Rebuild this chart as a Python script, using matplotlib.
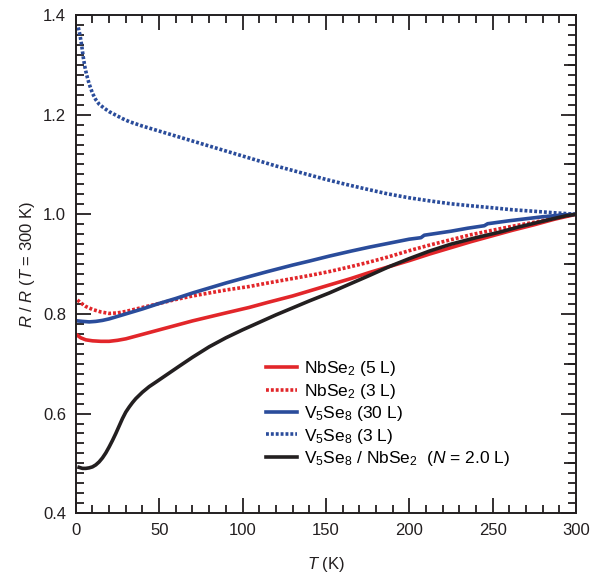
import numpy as np
import matplotlib.pyplot as plt
from matplotlib.ticker import MultipleLocator, FixedLocator, NullFormatter

plt.rcParams['font.family'] = ['Liberation Sans', 'DejaVu Sans']
plt.rcParams['mathtext.fontset'] = 'custom'
plt.rcParams['mathtext.rm'] = 'Liberation Sans'
plt.rcParams['mathtext.it'] = 'Liberation Sans:italic'

# NbSe2 (5 L)
t_nb5 = [1, 3, 6, 10, 15, 20, 25, 30, 40, 50, 60, 70, 80, 90, 104, 115, 130, 140,
         152, 165, 176, 188, 200, 212, 225, 237, 250, 262, 275, 287, 300]
r_nb5 = [0.757, 0.752, 0.748, 0.746, 0.745, 0.745, 0.747, 0.750, 0.759, 0.768, 0.777,
         0.786, 0.794, 0.802, 0.813, 0.823, 0.836, 0.846, 0.858, 0.871, 0.883, 0.895,
         0.907, 0.920, 0.933, 0.945, 0.957, 0.968, 0.979, 0.990, 1.0]

# NbSe2 (3 L)
t_nb3 = [1, 3, 6, 10, 15, 20, 25, 30, 40, 50, 60, 70, 80, 90, 104, 115, 130, 140,
         152, 165, 176, 188, 200, 212, 225, 237, 250, 262, 275, 287, 300]
r_nb3 = [0.828, 0.822, 0.815, 0.809, 0.804, 0.801, 0.802, 0.805, 0.813, 0.821, 0.829,
         0.836, 0.842, 0.848, 0.855, 0.862, 0.871, 0.877, 0.885, 0.895, 0.904, 0.915,
         0.927, 0.938, 0.949, 0.959, 0.968, 0.976, 0.984, 0.992, 1.0]

# V5Se8 (30 L)
t_v30 = [1, 4, 8, 12, 16, 20, 25, 30, 40, 50, 60, 70, 80, 90, 104, 115, 130, 140,
         152, 165, 176, 188, 200, 207, 209, 225, 235, 245, 247, 260, 270, 280, 290, 300]
r_v30 = [0.786, 0.785, 0.784, 0.785, 0.787, 0.790, 0.795, 0.800, 0.810, 0.821, 0.831,
         0.842, 0.852, 0.862, 0.875, 0.885, 0.898, 0.906, 0.916, 0.926, 0.934, 0.942,
         0.950, 0.953, 0.958, 0.966, 0.972, 0.977, 0.981, 0.987, 0.991, 0.995, 0.998, 1.0]

# V5Se8 (3 L)
t_v3 = [1.5, 2.5, 3.5, 4.5, 5.5, 6.5, 8, 10, 12, 14, 17, 20, 24, 28, 32, 40, 50, 60,
        70, 80, 90, 100, 110, 120, 130, 140, 150, 162, 175, 187, 200, 212, 225, 237,
        250, 262, 275, 287, 300]
r_v3 = [1.375, 1.360, 1.340, 1.315, 1.295, 1.280, 1.262, 1.243, 1.230, 1.221, 1.213,
        1.206, 1.199, 1.192, 1.186, 1.177, 1.167, 1.157, 1.147, 1.137, 1.127, 1.117,
        1.107, 1.097, 1.088, 1.079, 1.070, 1.060, 1.050, 1.041, 1.033, 1.027, 1.021,
        1.017, 1.013, 1.009, 1.006, 1.003, 1.0]

# V5Se8 / NbSe2 (N = 2.0 L)
t_het = [2, 4, 6, 8, 10, 12, 14, 16, 18, 20, 22, 24, 26, 28, 30, 32, 34, 36, 40, 44,
         48, 55, 62, 70, 80, 90, 100, 110, 120, 130, 140, 152, 165, 176, 188, 200,
         212, 225, 240, 254, 265, 275, 285, 294, 300]
r_het = [0.492, 0.490, 0.490, 0.491, 0.493, 0.497, 0.503, 0.511, 0.521, 0.533, 0.546,
         0.560, 0.575, 0.590, 0.603, 0.613, 0.622, 0.630, 0.643, 0.654, 0.663, 0.679,
         0.695, 0.713, 0.734, 0.752, 0.768, 0.783, 0.798, 0.812, 0.826, 0.842, 0.861,
         0.877, 0.895, 0.911, 0.926, 0.940, 0.953, 0.964, 0.974, 0.982, 0.990, 0.997, 1.0]

red = '#e2262a'
blue = '#2a4c9b'
black = '#231f20'
dots = (0, (0.8, 0.55))

fig = plt.figure(figsize=(5.92, 5.76), dpi=100)
ax = fig.add_axes([0.128, 0.109, 0.845, 0.865])

ax.plot(t_nb5, r_nb5, color=red, lw=2.6, label=r'NbSe$_2$ (5 L)')
ax.plot(t_nb3, r_nb3, color=red, lw=2.6, ls=dots, label=r'NbSe$_2$ (3 L)')
ax.plot(t_v30, r_v30, color=blue, lw=2.6, label=r'V$_5$Se$_8$ (30 L)')
ax.plot(t_v3, r_v3, color=blue, lw=2.6, ls=dots, label=r'V$_5$Se$_8$ (3 L)')
ax.plot(t_het, r_het, color=black, lw=2.6,
        label=r'V$_5$Se$_8$ / NbSe$_2$  ($N$ = 2.0 L)')

ax.set_xlim(0, 300)
ax.set_ylim(0.4, 1.4)

# medium ticks at the odd tenths on the right side
ax2 = ax.twinx()
ax2.set_ylim(ax.get_ylim())
ax2.yaxis.set_major_locator(FixedLocator([0.5, 0.7, 0.9, 1.1, 1.3]))
ax2.yaxis.set_major_formatter(NullFormatter())
ax2.yaxis.set_minor_locator(FixedLocator([]))
ax2.tick_params(axis='y', direction='in', length=8.5, width=1.3, color=black)
for s in ax2.spines.values():
    s.set_visible(False)

ax.xaxis.set_major_locator(MultipleLocator(50))
ax.xaxis.set_minor_locator(MultipleLocator(10))
ax.yaxis.set_major_locator(MultipleLocator(0.2))
ax.yaxis.set_minor_locator(MultipleLocator(0.02))
ax.yaxis.set_major_formatter(lambda v, p: f'{v:.1f}')

ax.tick_params(which='both', direction='in', top=True, right=True,
               width=1.3, color=black, labelsize=12, labelcolor=black)
ax.tick_params(which='major', length=11, pad=7)
ax.tick_params(which='minor', length=6)
for s in ax.spines.values():
    s.set_linewidth(1.4)
    s.set_color(black)

ax.set_xlabel(r'$T$ (K)', fontsize=12, labelpad=12, color=black)
ax.set_ylabel(r'$R$ / $R$ ($T$ = 300 K)', fontsize=12, labelpad=4, color=black)

ax.legend(loc='center left', bbox_to_anchor=(0.362, 0.20), frameon=False,
          fontsize=12.5, borderpad=0, handlelength=1.8, handletextpad=0.4,
          labelspacing=0.2)

plt.savefig('out.png', dpi=100)
